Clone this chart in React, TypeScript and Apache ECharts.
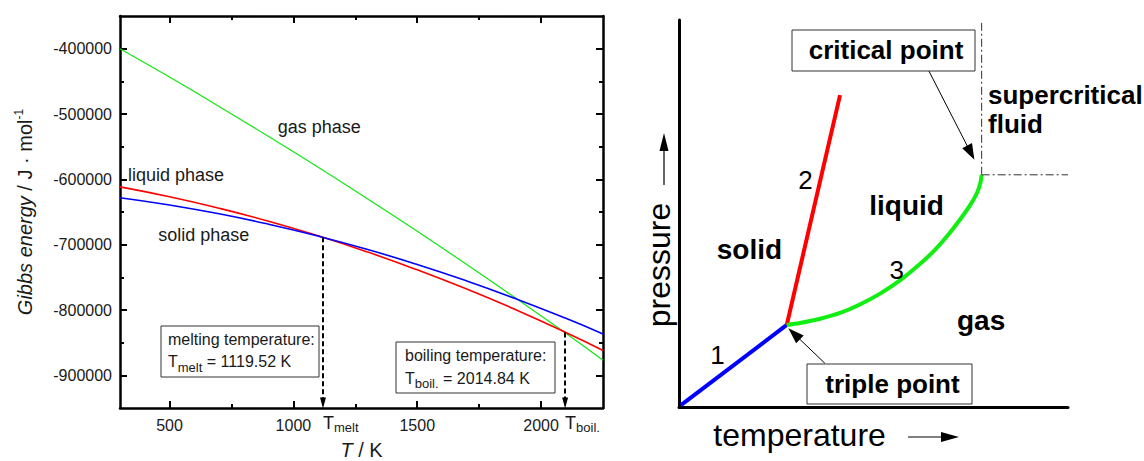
import React, { useEffect, useRef } from 'react';
import * as echarts from 'echarts';

// ---------- Left chart data (Gibbs energy vs temperature) ----------
const temperatureK = [300, 500, 700, 900, 1100, 1300, 1500, 1700, 1900, 2100, 2250];
const gasG = [-400000, -443500, -488500, -534500, -581500, -630000, -679500, -730500, -782500, -835500, -877000];
const liquidG = [-611500, -626600, -644200, -664100, -686500, -711300, -738500, -768000, -800000, -834500, -862000];
const solidG = [-628100, -639300, -652800, -668700, -686900, -707400, -730300, -755500, -783000, -812800, -836700];

const xTickValues = [500, 1000, 1500, 2000];
const xMinorValues = [750, 1250, 1750];
const yTickValues = [-900000, -800000, -700000, -600000, -500000, -400000];
const yMinorValues = [-850000, -750000, -650000, -550000, -450000];

const meltPoint = [1119.52, -688800];
const boilPoint = [2097, -834300];
const meltText = '1119.52 K';
const boilText = '2014.84 K';

// ---------- Right chart data (schematic phase diagram) ----------
const sublimationCurve = [[0.5, 0.5], [27.7, 21.2]];
const meltingCurve = [[27.7, 21.2], [41.4, 80.6]];
const boilingCurve = [
  [27.7, 21.2], [31.1, 21.7], [36.3, 22.8], [41.4, 24.3], [46.5, 26.5], [51.7, 29.3], [56.8, 32.7],
  [62.0, 37.0], [65.8, 40.6], [69.2, 44.5], [72.2, 48.4], [74.8, 52.1], [76.6, 55.3], [77.5, 58.0], [77.8, 60.0],
];
const criticalPoint = [77.8, 60.0];
const criticalArrowFrom = [64.1, 87.1];
const criticalArrowTo = [75.0, 65.7];
const tripleArrowFrom = [37.5, 11.3];
const tripleArrowTo = [29.6, 18.9];

const X_MIN = 300, X_MAX = 2250, Y_MIN = -950000, Y_MAX = -350000;
const FONT = "'Liberation Sans', Arial, Helvetica, sans-serif";
const TXT = '#1a1a1a';

const tickStyle = { color: '#000', width: 2 };

function leftX(position: string, major: boolean, showLine: boolean, extra: any = {}) {
  return {
    gridIndex: 0, type: 'value', position, min: X_MIN, max: X_MAX,
    axisLine: { show: showLine, onZero: false, lineStyle: { color: '#000', width: 2.5 } },
    axisTick: { show: true, inside: true, length: major ? 7 : 4, customValues: major ? xTickValues : xMinorValues, lineStyle: tickStyle },
    axisLabel: { show: false },
    splitLine: { show: false },
    ...extra,
  };
}
function leftY(position: string, major: boolean, showLine: boolean, extra: any = {}) {
  return {
    gridIndex: 0, type: 'value', position, min: Y_MIN, max: Y_MAX,
    axisLine: { show: showLine, onZero: false, lineStyle: { color: '#000', width: 2.5 } },
    axisTick: { show: true, inside: true, length: major ? 7 : 4, customValues: major ? yTickValues : yMinorValues, lineStyle: tickStyle },
    axisLabel: { show: false },
    splitLine: { show: false },
    ...extra,
  };
}

const zip = (a: number[], b: number[]) => a.map((v, i) => [v, b[i]]);

export default function App() {
  const ref = useRef<HTMLDivElement>(null);
  useEffect(() => {
    if (!ref.current) return;
    const chart = echarts.init(ref.current, null, { renderer: 'svg' });
    const arrowEndY = Y_MIN + (5 / 392) * (Y_MAX - Y_MIN);

    const subRich = {
      T: { fontSize: 18, lineHeight: 18, verticalAlign: 'top', fontFamily: FONT, color: TXT },
      s: { fontSize: 13, lineHeight: 13, padding: [7, 0, 0, 0], verticalAlign: 'top', fontFamily: FONT, color: TXT },
    };
    const boxRich = {
      n: { fontSize: 16, lineHeight: 16, verticalAlign: 'top', fontFamily: FONT, fill: TXT },
      s: { fontSize: 13, lineHeight: 13, padding: [7, 0, 0, 0], verticalAlign: 'top', fontFamily: FONT, fill: TXT },
    };

    const boxText = (x: number, y: number, text: string) => ({
      type: 'text', x, y, z: 20,
      style: { text, rich: boxRich, align: 'left', verticalAlign: 'top', fontFamily: FONT, fontSize: 16, fill: TXT },
    });
    const plainText = (x: number, y: number, text: string, size: number, bold: boolean, color: string, align = 'left') => ({
      type: 'text', x, y, z: 20,
      style: { text, fontSize: size, fontWeight: bold ? 'bold' : 'normal', fontFamily: FONT, fill: color, align, verticalAlign: 'middle' },
    });

    const option: any = {
      animation: false,
      grid: [
        { left: 120, top: 16, width: 483, height: 392, outerBoundsMode: 'none' },
        { left: 679, top: 20, width: 389, height: 387, outerBoundsMode: 'none' },
      ],
      xAxis: [
        leftX('bottom', true, true, {
          axisLabel: { show: true, customValues: xTickValues, margin: 9, fontSize: 16, fontFamily: FONT, color: TXT, formatter: (v: number) => String(v) },
          name: '{i|T} / K', nameLocation: 'middle', nameGap: 32,
          nameTextStyle: { fontSize: 20, fontFamily: FONT, color: TXT, rich: { i: { fontSize: 20, fontStyle: 'italic', fontFamily: FONT, color: TXT } } },
        }),
        leftX('bottom', false, false),
        leftX('top', true, true),
        leftX('top', false, false),
        {
          gridIndex: 0, type: 'value', position: 'bottom', min: X_MIN, max: X_MAX,
          axisLine: { show: false }, axisTick: { show: false }, splitLine: { show: false },
          axisLabel: {
            show: true, customValues: [meltPoint[0], boilPoint[0]], align: 'left', margin: 6,
            formatter: (v: number) => (Math.abs(v - meltPoint[0]) < 1 ? '{T|T}{s|melt}' : '{T|T}{s|boil.}'),
            rich: subRich,
          },
        },
        {
          gridIndex: 1, type: 'value', min: 0, max: 100,
          axisLine: { show: true, onZero: false, lineStyle: { color: '#000', width: 3 } },
          axisTick: { show: false }, axisLabel: { show: false }, splitLine: { show: false },
        },
      ],
      yAxis: [
        leftY('left', true, true, {
          axisLabel: { show: true, customValues: yTickValues, margin: 8, fontSize: 16, fontFamily: FONT, color: TXT, formatter: (v: number) => String(v) },
          name: '{i|Gibbs energy}{n| / J · mol}{p|-1}', nameLocation: 'middle', nameGap: 87,
          nameTextStyle: {
            fontSize: 20, fontFamily: FONT, color: TXT,
            rich: {
              i: { fontSize: 20, lineHeight: 20, padding: [2, 0, 0, 0], verticalAlign: 'top', fontStyle: 'italic', fontFamily: FONT, color: TXT },
              n: { fontSize: 20, lineHeight: 20, padding: [2, 0, 0, 0], verticalAlign: 'top', fontFamily: FONT, color: TXT },
              p: { fontSize: 12, lineHeight: 12, verticalAlign: 'top', fontFamily: FONT, color: TXT },
            },
          },
        }),
        leftY('left', false, false),
        leftY('right', true, true),
        leftY('right', false, false),
        {
          gridIndex: 1, type: 'value', min: 0, max: 100,
          axisLine: { show: true, onZero: false, lineStyle: { color: '#000', width: 3 } },
          axisTick: { show: false }, axisLabel: { show: false }, splitLine: { show: false },
        },
      ],
      series: [
        {
          type: 'line', name: 'gas phase', xAxisIndex: 0, yAxisIndex: 0, data: zip(temperatureK, gasG),
          smooth: true, showSymbol: false, silent: true, lineStyle: { color: '#10e810', width: 1.2 },
        },
        {
          type: 'line', name: 'liquid phase', xAxisIndex: 0, yAxisIndex: 0, data: zip(temperatureK, liquidG),
          smooth: true, showSymbol: false, silent: true, lineStyle: { color: '#ff0000', width: 1.6 },
          markLine: {
            silent: true, symbol: ['none', 'triangle'], symbolSize: [1, 10], label: { show: false },
            lineStyle: { color: '#000', width: 2, type: [5, 3] }, emphasis: { disabled: true },
            data: [
              [{ coord: meltPoint }, { coord: [meltPoint[0], arrowEndY], symbolSize: [6, 11] }],
              [{ coord: boilPoint }, { coord: [boilPoint[0], arrowEndY], symbolSize: [6, 11] }],
            ],
          },
        },
        {
          type: 'line', name: 'solid phase', xAxisIndex: 0, yAxisIndex: 0, data: zip(temperatureK, solidG),
          smooth: true, showSymbol: false, silent: true, lineStyle: { color: '#0000ff', width: 1.6 },
        },
        // right chart
        {
          type: 'line', name: '1', xAxisIndex: 5, yAxisIndex: 4, data: sublimationCurve,
          showSymbol: false, silent: true, lineStyle: { color: '#0000ff', width: 4 },
        },
        {
          type: 'line', name: '2', xAxisIndex: 5, yAxisIndex: 4, data: meltingCurve,
          showSymbol: false, silent: true, lineStyle: { color: '#ff0000', width: 4 },
        },
        {
          type: 'line', name: '3', xAxisIndex: 5, yAxisIndex: 4, data: boilingCurve,
          smooth: 0.3, showSymbol: false, silent: true, lineStyle: { color: '#11ee11', width: 4 },
          markLine: {
            silent: true, symbol: ['none', 'triangle'], symbolSize: [1, 12], label: { show: false },
            lineStyle: { color: '#000', width: 1, type: 'solid' }, emphasis: { disabled: true },
            data: [
              [{ coord: criticalArrowFrom }, { coord: criticalArrowTo, symbolSize: [11, 16] }],
              [{ coord: tripleArrowFrom }, { coord: tripleArrowTo, symbolSize: [11, 16] }],
            ],
          },
        },
        {
          type: 'line', name: 'critical isotherm', xAxisIndex: 5, yAxisIndex: 4,
          data: [criticalPoint, [criticalPoint[0], 100]],
          showSymbol: false, silent: true, lineStyle: { color: '#333', width: 1, type: [8, 3, 2, 3] },
        },
        {
          type: 'line', name: 'critical isobar', xAxisIndex: 5, yAxisIndex: 4,
          data: [criticalPoint, [100, criticalPoint[1]]],
          showSymbol: false, silent: true, lineStyle: { color: '#333', width: 1, type: [8, 3, 2, 3] },
        },
      ],
      graphic: [
        // left chart labels
        plainText(277.7, 127.1, 'gas phase', 18, false, TXT),
        plainText(128, 175.4, 'liquid phase', 18, false, TXT),
        plainText(158.3, 235.1, 'solid phase', 18, false, TXT),
        { type: 'rect', z: 15, shape: { x: 161, y: 326, width: 158, height: 51 }, style: { fill: '#fff', stroke: '#333', lineWidth: 1 } },
        boxText(168, 331, '{n|melting temperature:}'),
        boxText(168, 353.7, '{n|T}{s|melt}{n| = ' + meltText + '}'),
        { type: 'rect', z: 15, shape: { x: 396, y: 342, width: 159, height: 51 }, style: { fill: '#fff', stroke: '#333', lineWidth: 1 } },
        boxText(405, 347.5, '{n|boiling temperature:}'),
        boxText(405, 370.3, '{n|T}{s|boil.}{n| = ' + boilText + '}'),
        // right chart labels
        plainText(716.7, 249.6, 'solid', 28, true, '#000'),
        plainText(869.3, 205.8, 'liquid', 28, true, '#000'),
        plainText(957, 320.3, 'gas', 28, true, '#000'),
        plainText(988, 94.7, 'supercritical', 26, true, '#000'),
        plainText(988, 124.2, 'fluid', 26, true, '#000'),
        plainText(717.5, 355.4, '1', 26, false, '#000', 'center'),
        plainText(805.5, 180.4, '2', 26, false, '#000', 'center'),
        plainText(896.7, 270.4, '3', 26, false, '#000', 'center'),
        { type: 'rect', z: 15, shape: { x: 792, y: 30, width: 183, height: 41 }, style: { fill: '#fff', stroke: '#333', lineWidth: 1 } },
        plainText(886, 50, 'critical point', 26, true, '#000', 'center'),
        { type: 'rect', z: 15, shape: { x: 807, y: 364, width: 165, height: 40 }, style: { fill: '#fff', stroke: '#333', lineWidth: 1 } },
        plainText(892.5, 383.5, 'triple point', 26, true, '#000', 'center'),
        {
          type: 'text', x: 658.5, y: 265, rotation: Math.PI / 2, z: 20,
          style: { text: 'pressure', fontSize: 32, fontFamily: FONT, fill: '#000', align: 'center', verticalAlign: 'middle' },
        },
        plainText(713.3, 435.1, 'temperature', 32, false, '#000'),
        { type: 'line', z: 20, shape: { x1: 664, y1: 185, x2: 664, y2: 150 }, style: { stroke: '#000', lineWidth: 1.2 } },
        { type: 'polygon', z: 20, shape: { points: [[664, 133], [659.5, 151], [668.5, 151]] }, style: { fill: '#000' } },
        { type: 'line', z: 20, shape: { x1: 908, y1: 437, x2: 943, y2: 437 }, style: { stroke: '#555', lineWidth: 1.5 } },
        { type: 'polygon', z: 20, shape: { points: [[959, 437], [941, 432], [941, 442]] }, style: { fill: '#000' } },
      ],
    };
    chart.setOption(option);
    return () => chart.dispose();
  }, []);
  return <div ref={ref} style={{ position: 'absolute', left: 0, top: 0, width: 1144, height: 461, background: '#fff' }} />;
}
